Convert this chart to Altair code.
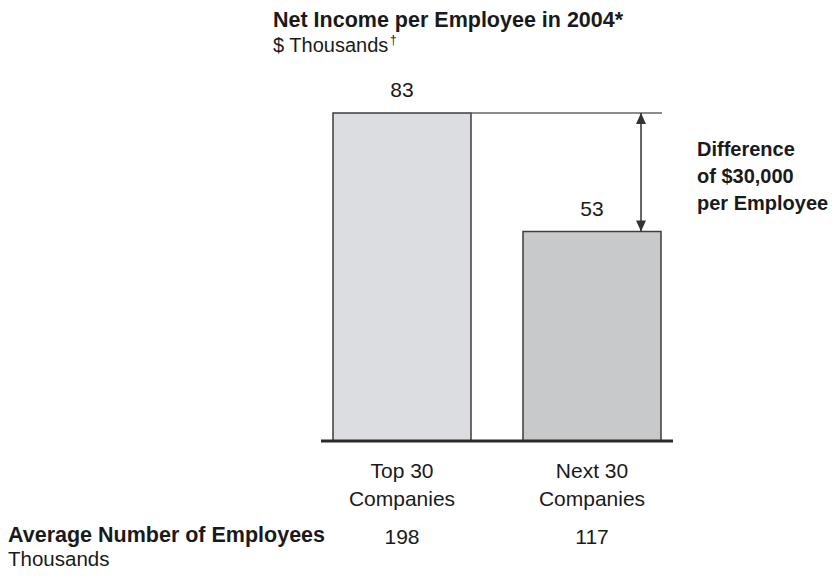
import altair as alt
import pandas as pd

# ---- data ----
categories = ["Top 30", "Next 30"]
category_lines = ["Top 30\nCompanies", "Next 30\nCompanies"]
net_income = [83, 53]          # $ thousands per employee
employees = [198, 117]         # thousands

title_text = "Net Income per Employee in 2004*"
subtitle_text = "$ Thousands"
subtitle_mark = "†"
diff_text = "Difference\nof $30,000\nper Employee"
row_label = "Average Number of Employees"
row_unit = "Thousands"

df = pd.DataFrame({
    "category": categories,
    "label": category_lines,
    "income": net_income,
    "employees": employees,
})

FONT = "Liberation Sans"
W, H = 352, 328
TXT = "#1a1a1a"

xs = alt.Scale(domain=categories, paddingInner=0.2737, paddingOuter=0.0632)
ys = alt.Scale(domain=[0, max(net_income)], nice=False, zero=True)
X = alt.X("category:N", scale=xs, axis=None, sort=categories)

base = alt.Chart(df)

bars = base.mark_bar(stroke="#3d3d3d", strokeWidth=1.5).encode(
    x=X,
    y=alt.Y("income:Q", scale=ys, axis=None),
    fill=alt.Fill("category:N",
                  scale=alt.Scale(domain=categories, range=["#dcdde0", "#c8c9cb"]),
                  legend=None),
)

value_labels = base.mark_text(font=FONT, fontSize=21, baseline="alphabetic", dy=-16, color=TXT).encode(
    x=X, y=alt.Y("income:Q", scale=ys, axis=None), text="income:Q"
)

cat_labels = base.mark_text(font=FONT, fontSize=21, baseline="alphabetic", lineBreak="\n",
                            lineHeight=28, color=TXT).encode(
    x=X, y=alt.value(365), text="label:N"
)

emp_labels = base.mark_text(font=FONT, fontSize=21, baseline="alphabetic", color=TXT).encode(
    x=X, y=alt.value(431), text="employees:Q"
)

ann = alt.Chart(pd.DataFrame({"zero": [0], "hi": [net_income[0]], "lo": [net_income[1]]}))

baseline = ann.mark_rule(color="#2b2b2b", strokeWidth=3).encode(
    x=alt.value(0), x2=alt.value(W), y=alt.Y("zero:Q", scale=ys, axis=None)
)

top_line = ann.mark_rule(color="#666666", strokeWidth=1.6).encode(
    x=alt.value(150), x2=alt.value(341), y=alt.Y("hi:Q", scale=ys, axis=None)
)

arrow_shaft = ann.mark_rule(color="#333333", strokeWidth=1.5).encode(
    x=alt.value(320), y=alt.Y("hi:Q", scale=ys, axis=None), y2="lo:Q"
)

head_up = ann.mark_point(shape="M0,0L-0.45,1L0.45,1Z", size=484, filled=True,
                         color="#333333", opacity=1).encode(
    x=alt.value(320), y=alt.Y("hi:Q", scale=ys, axis=None)
)
head_down = ann.mark_point(shape="M0,0L-0.45,-1L0.45,-1Z", size=484, filled=True,
                           color="#333333", opacity=1).encode(
    x=alt.value(320), y=alt.Y("lo:Q", scale=ys, axis=None)
)

def txt(s, x, y, size=21, weight="normal", lh=None):
    kw = dict(font=FONT, fontSize=size, fontWeight=weight, align="left",
              baseline="alphabetic", color=TXT)
    if lh:
        kw.update(lineBreak="\n", lineHeight=lh)
    return alt.Chart(pd.DataFrame({"t": [s]})).mark_text(**kw).encode(
        x=alt.value(x), y=alt.value(y), text="t:N"
    )

title = txt(title_text, -48, -86, size=21.5, weight="bold")
subtitle = txt(subtitle_text, -48, -61, size=20)
dagger = txt(subtitle_mark, 69, -69, size=12)
diff = txt(diff_text, 376, 43, size=20, weight="bold", lh=27)
row1 = txt(row_label, -313, 429, size=21.5, weight="bold")
row2 = txt(row_unit, -313, 453, size=20.5)

chart = alt.layer(
    bars, baseline, top_line, arrow_shaft, head_up, head_down,
    value_labels, cat_labels, emp_labels,
    title, subtitle, dagger, diff, row1, row2,
).properties(
    width=W, height=H,
    padding={"left": 313, "top": 105, "right": 159, "bottom": 130},
    autosize=alt.AutoSizeParams(type="none"),
).configure_view(stroke=None)

chart.save("out.html", embed_options={"renderer": "svg", "actions": False})
